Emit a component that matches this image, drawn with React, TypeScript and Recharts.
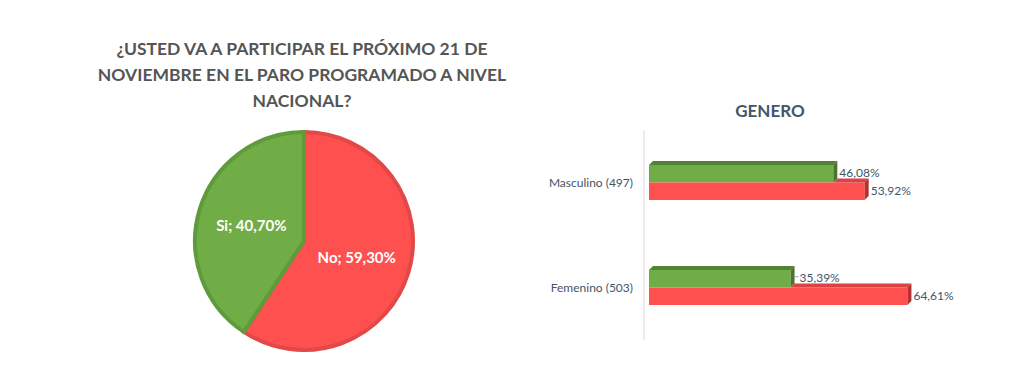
import React from "react";
import { PieChart, Pie, Cell, BarChart, Bar, XAxis, YAxis, LabelList } from "recharts";

const pieTitleLines = ["¿USTED VA A PARTICIPAR EL PRÓXIMO 21 DE", "NOVIEMBRE EN EL PARO PROGRAMADO A NIVEL", "NACIONAL?"];
const pieNames = ["No", "Si"];
const pieValues = [59.3, 40.7];
const pieLabels = ["No; 59,30%", "Si; 40,70%"];

const barTitle = "GENERO";
const genderCategories = ["Masculino (497)", "Femenino (503)"];
const siValues = [46.08, 35.39];
const noValues = [53.92, 64.61];
const siLabels = ["46,08%", "35,39%"];
const noLabels = ["53,92%", "64,61%"];

const pieData = pieNames.map((n, i) => ({ name: n, value: pieValues[i], label: pieLabels[i] }));
const barData = genderCategories.map((c, i) => ({
  name: c,
  si: siValues[i],
  no: noValues[i],
  siLabel: siLabels[i],
  noLabel: noLabels[i],
}));

const RED = "#FF5050";
const RED_STROKE = "#E34848";
const GREEN = "#70AD47";
const GREEN_STROKE = "#5F9B3A";
const D = 4;
const OFF = 5;
const FONT = "Lato, 'Open Sans', sans-serif";

const RAD = Math.PI / 180;
const renderPieLabel = (props: any) => {
  const { cx, cy, midAngle, outerRadius, index } = props;
  const r = outerRadius * 0.505;
  const x = cx + r * Math.cos(-midAngle * RAD);
  const y = cy + r * Math.sin(-midAngle * RAD);
  return (
    <text x={x} y={y} fill="#FFFFFF" textAnchor="middle" dominantBaseline="central"
      style={{ fontFamily: FONT, fontWeight: 700, fontSize: 15 }}>
      {pieData[index].label}
    </text>
  );
};

const Bar3D = (fill: string, top: string, side: string, isNo: boolean) => (props: any) => {
  const { x, y, width, height, payload } = props;
  const x0 = x + OFF;
  const w = width;
  const h = height;
  let topStart = x0;
  if (isNo && payload) {
    const gw = (payload.si / payload.no) * w;
    topStart = x0 + Math.min(gw, w);
  }
  return (
    <g>
      <rect x={x0} y={y} width={w} height={h} fill={fill} />
      {topStart < x0 + w && (
        <polygon
          points={`${topStart},${y} ${topStart + D},${y - D} ${x0 + w + D},${y - D} ${x0 + w},${y}`}
          fill={top}
        />
      )}
      <polygon
        points={`${x0 + w},${y} ${x0 + w + D},${y - D} ${x0 + w + D},${y + h - D} ${x0 + w},${y + h}`}
        fill={side}
      />
    </g>
  );
};

const makeLabel = (key: "siLabel" | "noLabel", leader: boolean) => (props: any) => {
  const { x, y, width, height, index } = props;
  const lx = x + OFF + width + D + 2;
  const cy = y + height / 2 - 1;
  const txt = barData[index][key];
  const showLeader = leader && index === 1;
  return (
    <g>
      {showLeader && (
        <path d={`M${lx - 2},${cy + 3} L${lx - 2},${cy - 1} L${lx + 2},${cy - 1}`} stroke="#A6A6A6" fill="none" strokeWidth={1} />
      )}
      <text x={showLeader ? lx + 3 : lx} y={cy} dominantBaseline="central" fill="#44546A"
        style={{ fontFamily: FONT, fontSize: 12 }}>
        {txt}
      </text>
    </g>
  );
};

export default function App() {
  return (
    <div style={{ position: "absolute", left: 0, top: 0, width: 1024, height: 369, background: "#FFFFFF", overflow: "hidden" }}>
      <div style={{ position: "absolute", left: 52, top: 36, width: 500, textAlign: "center", color: "#555555",
        fontFamily: FONT, fontWeight: 700, fontSize: 17.5, lineHeight: "26px" }}>
        {pieTitleLines.map((l, i) => <div key={i}>{l}</div>)}
      </div>
      <div style={{ position: "absolute", left: 174, top: 111 }}>
        <PieChart width={260} height={260} margin={{ top: 0, right: 0, bottom: 0, left: 0 }}>
          <Pie data={pieData} dataKey="value" nameKey="name" cx={130} cy={130} outerRadius={109}
            startAngle={90} endAngle={-270} label={renderPieLabel} labelLine={false} isAnimationActive={false}>
            <Cell fill={RED} stroke={RED_STROKE} strokeWidth={4} />
            <Cell fill={GREEN} stroke={GREEN_STROKE} strokeWidth={4} />
          </Pie>
        </PieChart>
      </div>
      <div style={{ position: "absolute", left: 670, top: 100, width: 200, textAlign: "center", color: "#44546A",
        fontFamily: FONT, fontWeight: 700, fontSize: 17 }}>
        {barTitle}
      </div>
      <div style={{ position: "absolute", left: 520, top: 120 }}>
        <BarChart width={460} height={230} data={barData} layout="vertical"
          margin={{ top: 10, right: 56, bottom: 10, left: 0 }} barGap={0} barCategoryGap="33%">
          <XAxis type="number" domain={[0, 70]} hide />
          <YAxis type="category" dataKey="name" width={124} axisLine={{ stroke: "#D9D9D9" }} tickLine={false}
            tickMargin={5} tick={{ fill: "#44546A", fontSize: 12, fontFamily: FONT }} />
          <Bar dataKey="si" barSize={17.5} isAnimationActive={false} shape={Bar3D(GREEN, "#548235", "#4A7530", false)}>
            <LabelList dataKey="siLabel" content={makeLabel("siLabel", true)} />
          </Bar>
          <Bar dataKey="no" barSize={17.5} isAnimationActive={false} shape={Bar3D(RED, "#D94343", "#B23131", true)}>
            <LabelList dataKey="noLabel" content={makeLabel("noLabel", false)} />
          </Bar>
        </BarChart>
      </div>
    </div>
  );
}
